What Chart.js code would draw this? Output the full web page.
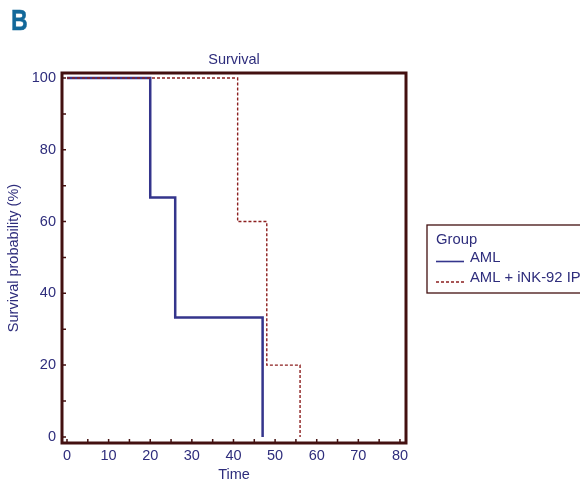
<!DOCTYPE html>
<html>
<head>
<meta charset="utf-8">
<script src="https://cdn.jsdelivr.net/npm/chart.js@4.4.1/dist/chart.umd.min.js"></script>
<style>
  html, body { margin: 0; padding: 0; background: #ffffff; }
  #wrap { position: relative; width: 580px; height: 484px; overflow: hidden; }
  #panel { position: absolute; left: 11px; top: 3px; font: bold 29px "Liberation Sans", sans-serif; color: #12689a; transform: scaleX(0.8); transform-origin: 0 0; line-height: 34px; -webkit-text-stroke: 0.4px #12689a; }
  canvas { position: absolute; left: 0; top: 0; }
</style>
</head>
<body>
<div id="wrap">
  <canvas id="c" width="580" height="484"></canvas>
  <div id="panel">B</div>
</div>
<script>
// ---- data ----
const groupTitle = "Group";
const amlLabel = "AML";
const amlTime = [0, 20, 26, 47];
const amlSurv = [100, 66.7, 33.3, 0];
const inkLabel = "AML + iNK-92 IP";
const inkTime = [0, 41, 48, 56];
const inkSurv = [100, 60, 20, 0];
const xTicks = [0, 10, 20, 30, 40, 50, 60, 70, 80];
const yTicks = [0, 20, 40, 60, 80, 100];
const xMinor = [0,5,10,15,20,25,30,35,40,45,50,55,60,65,70,75,80];
const yMinor = [0,10,20,30,40,50,60,70,80,90,100];

const NAVY = "#2e2d7c";
const FRAME = "#431010";
const BLUE = "#34358c";
const RED = "#8c1f1f";
const FONT = "Liberation Sans";

const toPts = (xs, ys) => xs.map((x, i) => ({x: x, y: ys[i]}));

const framePlugin = {
  id: 'frame',
  afterDatasetsDraw(chart) {
    const {ctx, chartArea: a, scales: {x, y}} = chart;
    ctx.save();
    ctx.strokeStyle = FRAME;
    ctx.lineWidth = 1.5;
    ctx.beginPath();
    xMinor.forEach(v => { const px = x.getPixelForValue(v); ctx.moveTo(px, a.bottom); ctx.lineTo(px, a.bottom - 4); });
    yMinor.forEach(v => { const py = y.getPixelForValue(v); ctx.moveTo(a.left, py); ctx.lineTo(a.left + 4, py); });
    ctx.stroke();
    ctx.lineWidth = 3;
    ctx.strokeRect(a.left, a.top, a.right - a.left, a.bottom - a.top);
    ctx.restore();
  },
  afterDraw(chart) {
    const {ctx} = chart;
    ctx.save();
    const bx = 427, by = 225, bw = 170, bh = 68;
    ctx.strokeStyle = FRAME;
    ctx.lineWidth = 1.3;
    ctx.strokeRect(bx, by, bw, bh);
    ctx.fillStyle = NAVY;
    ctx.font = "14.8px " + FONT;
    ctx.textBaseline = "middle";
    ctx.textAlign = "left";
    ctx.fillText(groupTitle, 436, 240);
    const textRows = [257.5, 277.5];
    const lineRows = [261.5, 282];
    chart.data.datasets.forEach((ds, i) => {
      ctx.strokeStyle = ds.borderColor;
      ctx.lineWidth = ds.legendWidth;
      ctx.setLineDash(ds.borderDash || []);
      ctx.beginPath();
      ctx.moveTo(436, lineRows[i]);
      ctx.lineTo(464, lineRows[i]);
      ctx.stroke();
      ctx.setLineDash([]);
      ctx.fillStyle = NAVY;
      ctx.fillText(ds.label, 470, textRows[i]);
    });
    ctx.restore();
  }
};

new Chart(document.getElementById('c'), {
  type: 'scatter',
  data: {
    datasets: [
      { label: amlLabel, data: toPts(amlTime, amlSurv), showLine: true, stepped: 'before',
        borderColor: BLUE, borderWidth: 2.5, legendWidth: 1.6, pointRadius: 0, fill: false, order: 1 },
      { label: inkLabel, data: toPts(inkTime, inkSurv), showLine: true, stepped: 'before',
        borderColor: RED, borderWidth: 1.4, legendWidth: 1.4, borderDash: [3, 2], pointRadius: 0, fill: false, order: 0 }
    ]
  },
  options: {
    responsive: false,
    animation: false,
    devicePixelRatio: 1,
    layout: { padding: { left: 0, top: 0, right: 174, bottom: 0 } },
    plugins: {
      legend: { display: false },
      tooltip: { enabled: false },
      title: {
        display: true, text: 'Survival', color: NAVY, fullSize: false,
        font: { family: FONT, size: 14.5, weight: 'normal' },
        padding: { top: 51.5, bottom: 4.1 }
      }
    },
    scales: {
      x: {
        type: 'linear', min: -1.2, max: 81.45,
        afterBuildTicks: s => { s.ticks = xTicks.map(v => ({value: v})); },
        afterFit: s => { s.height = 41; },
        grid: { display: false, drawTicks: false },
        border: { display: false },
        ticks: { color: NAVY, padding: 4.5, font: { family: FONT, size: 14.5 }, maxRotation: 0 },
        title: { display: true, text: 'Time', color: NAVY, font: { family: FONT, size: 14.5 }, padding: { top: 0, bottom: 0 } }
      },
      y: {
        type: 'linear', min: -1.7, max: 101.4,
        afterBuildTicks: s => { s.ticks = yTicks.map(v => ({value: v})); },
        afterFit: s => { s.width = 62; },
        grid: { display: false, drawTicks: false },
        border: { display: false },
        ticks: { color: NAVY, padding: 6, font: { family: FONT, size: 14.5 } },
        title: { display: true, text: 'Survival probability (%)', color: NAVY, font: { family: FONT, size: 14.5 }, padding: { top: 4.8, bottom: 0 } }
      }
    }
  },
  plugins: [framePlugin]
});
</script>
</body>
</html>
